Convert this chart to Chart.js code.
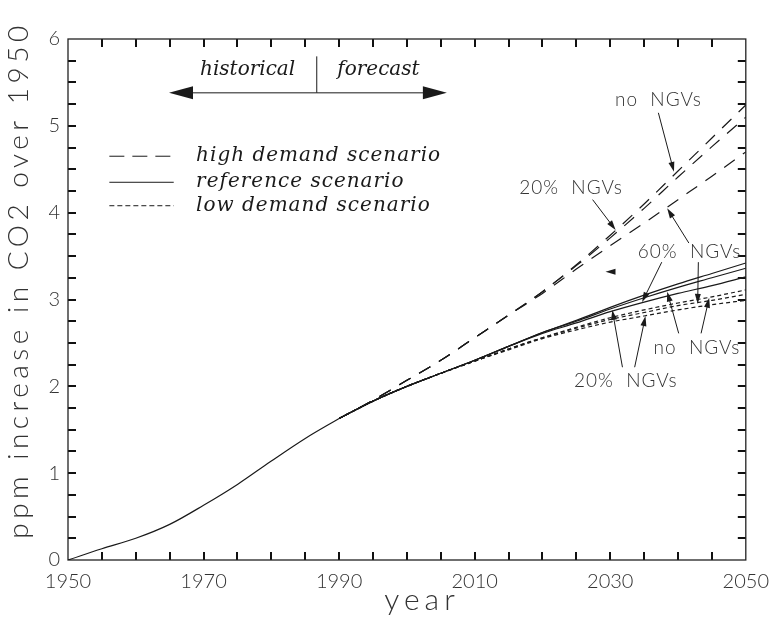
<!DOCTYPE html>
<html>
<head>
<meta charset="utf-8">
<script src="https://cdn.jsdelivr.net/npm/chart.js@4.4.1/dist/chart.umd.min.js"></script>
<style>
  html, body { margin: 0; background: #fff; }
  #wrap { width: 779px; height: 620px; }
</style>
</head>
<body>
<div id="wrap"><canvas id="co2-chart"></canvas></div>
<script>
// historical part, shared by every scenario
const histYears = [1950, 1955, 1960, 1965, 1970, 1975, 1980, 1985, 1990];
const histValues = [0, 0.13, 0.25, 0.41, 0.63, 0.87, 1.14, 1.40, 1.63];

// forecast, one curve per scenario and NGV share
const forecastYears = [1990, 1995, 2000, 2005, 2010, 2015, 2020, 2025, 2030, 2035, 2040, 2045, 2050];
const highNo  = [1.63, 1.84, 2.07, 2.30, 2.56, 2.82, 3.09, 3.40, 3.74, 4.10, 4.48, 4.86, 5.24];
const high20  = [1.63, 1.84, 2.07, 2.30, 2.56, 2.82, 3.09, 3.39, 3.71, 4.05, 4.41, 4.76, 5.10];
const high60  = [1.63, 1.84, 2.07, 2.30, 2.56, 2.82, 3.07, 3.35, 3.62, 3.88, 4.15, 4.42, 4.70];
const refNo   = [1.63, 1.83, 2.00, 2.15, 2.30, 2.46, 2.62, 2.76, 2.91, 3.05, 3.18, 3.30, 3.42];
const ref20   = [1.63, 1.83, 2.00, 2.15, 2.30, 2.46, 2.62, 2.75, 2.89, 3.02, 3.14, 3.25, 3.36];
const ref60   = [1.63, 1.83, 2.00, 2.15, 2.30, 2.46, 2.61, 2.73, 2.86, 2.97, 3.07, 3.16, 3.26];
const lowNo   = [1.63, 1.83, 2.00, 2.15, 2.29, 2.43, 2.56, 2.68, 2.79, 2.88, 2.96, 3.03, 3.11];
const low20   = [1.63, 1.83, 2.00, 2.15, 2.29, 2.43, 2.56, 2.67, 2.77, 2.85, 2.93, 2.99, 3.06];
const low60   = [1.63, 1.83, 2.00, 2.15, 2.29, 2.42, 2.55, 2.65, 2.74, 2.81, 2.88, 2.94, 2.99];

// minor tick positions on the frame
const xTickYears = [1955, 1960, 1965, 1970, 1975, 1980, 1985, 1990, 1995, 2000,
                    2005, 2010, 2015, 2020, 2025, 2030, 2035, 2040, 2045];
const yTickValues = [0.25, 0.5, 0.75, 1, 1.25, 1.5, 1.75, 2, 2.25, 2.5, 2.75, 3,
                     3.25, 3.5, 3.75, 4, 4.25, 4.5, 4.75, 5, 5.25, 5.5, 5.75];

const legendLabels = ['high demand scenario', 'reference scenario', 'low demand scenario'];

const HIGH_DASH = [13, 10];
const LOW_DASH = [4, 3];
const INK = '#1a1a1a';
const TEXT = '#333';
const SANS = 'Lato, "DejaVu Sans"';
const SERIF = '"DejaVu Serif"';

function pts(xs, ys) {
  return xs.map((x, i) => ({ x: x, y: ys[i] }));
}

function line(data, dash) {
  return {
    data: data,
    borderColor: INK,
    borderWidth: 1.2,
    borderDash: dash,
    pointRadius: 0,
    cubicInterpolationMode: 'monotone',
    fill: false
  };
}

// annotations, given in data units (year, ppm)
const callouts = [
  { text: 'no  NGVs', at: [2037.1, 5.30] },
  { text: '20%  NGVs', at: [2024.2, 4.28] },
  { text: '60%  NGVs', at: [2041.7, 3.55] },
  { text: 'no  NGVs', at: [2042.8, 2.44] },
  { text: '20%  NGVs', at: [2032.3, 2.06] }
];
const pointers = [
  [2037.1, 5.15, 2039.4, 4.47],
  [2027.4, 4.15, 2030.8, 3.80],
  [2041.6, 3.65, 2038.4, 4.05],
  [2037.6, 3.43, 2034.7, 2.97],
  [2043.0, 3.43, 2042.9, 2.95],
  [2040.1, 2.61, 2038.4, 3.09],
  [2043.4, 2.61, 2044.6, 3.02],
  [2031.8, 2.22, 2030.3, 2.88],
  [2033.6, 2.22, 2035.2, 2.81],
  [2030.6, 3.32, 2029.3, 3.32]
];

function arrow(ctx, x1, y1, x2, y2, len, half) {
  const ang = Math.atan2(y2 - y1, x2 - x1);
  const c = Math.cos(ang), s = Math.sin(ang);
  ctx.beginPath();
  ctx.moveTo(x1, y1);
  ctx.lineTo(x2 - c * len * 0.8, y2 - s * len * 0.8);
  ctx.stroke();
  ctx.beginPath();
  ctx.moveTo(x2, y2);
  ctx.lineTo(x2 - c * len - s * half, y2 - s * len + c * half);
  ctx.lineTo(x2 - c * len + s * half, y2 - s * len - c * half);
  ctx.closePath();
  ctx.fill();
}

const frameTicks = {
  id: 'frameTicks',
  beforeDatasetsDraw(chart) {
    const { ctx, chartArea: a, scales } = chart;
    const top = a.top, bottom = a.bottom, left = a.left, right = a.right;
    ctx.save();
    ctx.fillStyle = '#111';
    xTickYears.forEach(yr => {
      const tx = Math.round(scales.x.getPixelForValue(yr)) - 1;
      ctx.fillRect(tx, bottom - 8, 2, 8);
      ctx.fillRect(tx, top, 2, 8);
    });
    yTickValues.forEach(v => {
      const ty = Math.round(scales.y.getPixelForValue(v)) - 1;
      ctx.fillRect(left, ty, 8, 2);
      ctx.fillRect(right - 8, ty, 8, 2);
    });
    ctx.strokeStyle = '#222';
    ctx.lineWidth = 1.3;
    ctx.strokeRect(left, top, right - left, bottom - top);
    ctx.restore();
  }
};

const decorations = {
  id: 'decorations',
  afterDraw(chart) {
    const { ctx, scales: { x, y } } = chart;
    const px = v => x.getPixelForValue(v);
    const py = v => y.getPixelForValue(v);
    ctx.save();
    ctx.setLineDash([]);

    // axis titles
    ctx.fillStyle = TEXT;
    ctx.textAlign = 'center';
    ctx.textBaseline = 'middle';
    ctx.font = '300 30px ' + SANS;
    ctx.letterSpacing = '5px';
    ctx.fillText('year', 422, 600);
    ctx.save();
    ctx.translate(19, 280);
    ctx.rotate(-Math.PI / 2);
    ctx.font = '300 28px ' + SANS;
    ctx.letterSpacing = '4.5px';
    ctx.fillText('ppm increase in CO2 over 1950', 0, 0);
    ctx.restore();
    ctx.letterSpacing = '0px';

    ctx.fillStyle = INK;
    ctx.strokeStyle = INK;
    ctx.lineWidth = 1;

    // historical | forecast marker
    ctx.font = 'italic 20px ' + SERIF;
    ctx.fillText('historical', px(1976.5), py(5.64));
    ctx.fillText('forecast', px(1995.8), py(5.64));
    ctx.beginPath();
    ctx.moveTo(px(1986.7), py(5.80));
    ctx.lineTo(px(1986.7), py(5.38));
    ctx.stroke();
    arrow(ctx, px(1986.7), py(5.38), px(1964.9), py(5.38), 24, 6.5);
    arrow(ctx, px(1986.7), py(5.38), px(2005.9), py(5.38), 24, 6.5);

    // legend
    const legendY = [4.65, 4.35, 4.08];
    const dashes = [[15, 8], [], [5, 3]];
    ctx.textAlign = 'left';
    ctx.letterSpacing = '1px';
    legendLabels.forEach((label, i) => {
      ctx.setLineDash(dashes[i]);
      ctx.beginPath();
      ctx.moveTo(px(1956.1), py(legendY[i]));
      ctx.lineTo(px(1965.6), py(legendY[i]));
      ctx.stroke();
      ctx.setLineDash([]);
      ctx.fillText(label, px(1968.9), py(legendY[i]));
    });

    // NGV call-outs
    ctx.fillStyle = TEXT;
    ctx.font = '300 19px ' + SANS;
    ctx.textAlign = 'center';
    ctx.letterSpacing = '1px';
    callouts.forEach(c => ctx.fillText(c.text, px(c.at[0]), py(c.at[1])));
    ctx.letterSpacing = '0px';
    ctx.fillStyle = INK;
    pointers.forEach(p => arrow(ctx, px(p[0]), py(p[1]), px(p[2]), py(p[3]), 10, 3));

    ctx.restore();
  }
};

new Chart(
  document.getElementById('co2-chart'),
  {
    type: 'line',
    data: {
      datasets: [
        line(pts(histYears, histValues), []),
        line(pts(forecastYears, highNo), HIGH_DASH),
        line(pts(forecastYears, high20), HIGH_DASH),
        line(pts(forecastYears, high60), HIGH_DASH),
        line(pts(forecastYears, refNo), []),
        line(pts(forecastYears, ref20), []),
        line(pts(forecastYears, ref60), []),
        line(pts(forecastYears, lowNo), LOW_DASH),
        line(pts(forecastYears, low20), LOW_DASH),
        line(pts(forecastYears, low60), LOW_DASH)
      ]
    },
    options: {
      animation: false,
      responsive: true,
      maintainAspectRatio: false,
      layout: { padding: { top: 39, right: 24, left: 0, bottom: 0 } },
      plugins: {
        legend: { display: false },
        tooltip: { enabled: false }
      },
      scales: {
        x: {
          type: 'linear',
          min: 1950,
          max: 2050,
          afterFit: s => { s.height = 60; },
          grid: { display: false, drawTicks: false },
          border: { display: false },
          ticks: {
            stepSize: 20,
            padding: 10,
            color: TEXT,
            maxRotation: 0,
            font: { family: SANS, size: 20, weight: '300' },
            callback: v => String(v)
          }
        },
        y: {
          min: 0,
          max: 6,
          afterFit: s => { s.width = 68; },
          grid: { display: false, drawTicks: false },
          border: { display: false },
          ticks: {
            stepSize: 1,
            padding: 8,
            color: TEXT,
            font: { family: SANS, size: 20, weight: '300' }
          }
        }
      }
    },
    plugins: [frameTicks, decorations]
  }
);
</script>
</body>
</html>
